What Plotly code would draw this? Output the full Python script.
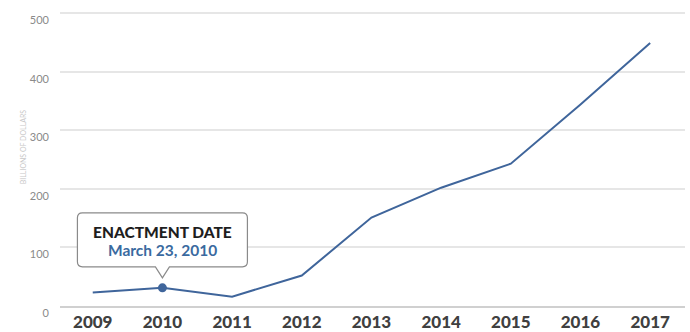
import plotly.graph_objects as go

years = [2009, 2010, 2011, 2012, 2013, 2014, 2015, 2016, 2017]
values = [23, 31, 16, 52, 151, 202, 243, 344, 449]
y_ticks = [0, 100, 200, 300, 400, 500]
event_year = 2010
event_value = 31
event_title = "ENACTMENT DATE"
event_date = "March 23, 2010"
y_title = "BILLIONS OF DOLLARS"

LINE = "#3f659b"

fig = go.Figure()
fig.add_trace(go.Scatter(x=years, y=values, mode="lines",
                         line=dict(color=LINE, width=2), hoverinfo="skip"))
fig.add_trace(go.Scatter(x=[event_year], y=[event_value], mode="markers",
                         marker=dict(color=LINE, size=9), hoverinfo="skip"))

# callout box (pixel offsets anchored at the event point)
r = 5
L, R, T, B, tip, nw = -85, 85, 75, 21, 10, 7
path = (f"M {L+r},{T} L {R-r},{T} Q {R},{T} {R},{T-r} L {R},{B+r} Q {R},{B} {R-r},{B} "
        f"L {nw},{B} L 0,{tip} L {-nw},{B} L {L+r},{B} Q {L},{B} {L},{B+r} "
        f"L {L},{T-r} Q {L},{T} {L+r},{T} Z")
fig.add_shape(type="path", xref="x", yref="y", xsizemode="pixel", ysizemode="pixel",
              xanchor=event_year, yanchor=event_value, path=path,
              fillcolor="white", line=dict(color="#8a8a8a", width=1.2), layer="above")

fig.add_annotation(x=event_year, y=event_value, xref="x", yref="y",
                   text=event_title, showarrow=False,
                   font=dict(family="Lato", size=15.5, color="#1e1e1e", weight=900),
                   xshift=0, yshift=56)
fig.add_annotation(x=event_year, y=event_value, xref="x", yref="y",
                   text=event_date, showarrow=False,
                   font=dict(family="Lato", size=15.5, color="#3a6aa0", weight=700),
                   xshift=0, yshift=38)

fig.add_annotation(x=0, y=0.54, xref="paper", yref="paper", xshift=-43,
                   text=y_title, textangle=-90, showarrow=False,
                   font=dict(family="Lato", size=7, color="#c8c8c8"))

fig.update_layout(
    width=690, height=332,
    margin=dict(l=60, r=5, t=12, b=26, autoexpand=False),
    paper_bgcolor="white", plot_bgcolor="white",
    showlegend=False,
    xaxis=dict(range=[2008.53, 2017.5], tickmode="array", tickvals=years,
               ticktext=[str(y) for y in years], showgrid=False, zeroline=False,
               showline=True, linecolor="#d0d0d0", linewidth=1.5, ticks="",
               tickfont=dict(family="Lato", size=17, color="#404040", weight=900),
               automargin=False, fixedrange=True),
    yaxis=dict(range=[0, 502], tickmode="array", tickvals=y_ticks,
               showgrid=True, gridcolor="#e6e6e6", gridwidth=1.5, zeroline=False,
               showline=False, ticks="", ticklabelstandoff=10, ticklabelshift=7,
               ticklabeloverflow="allow",
               tickfont=dict(family="Lato", size=11, color="#8a8a8a"),
               automargin=False, fixedrange=True),
)

fig.write_html("out.html", config={"displayModeBar": False},
               post_script="document.body.style.margin='0';")
